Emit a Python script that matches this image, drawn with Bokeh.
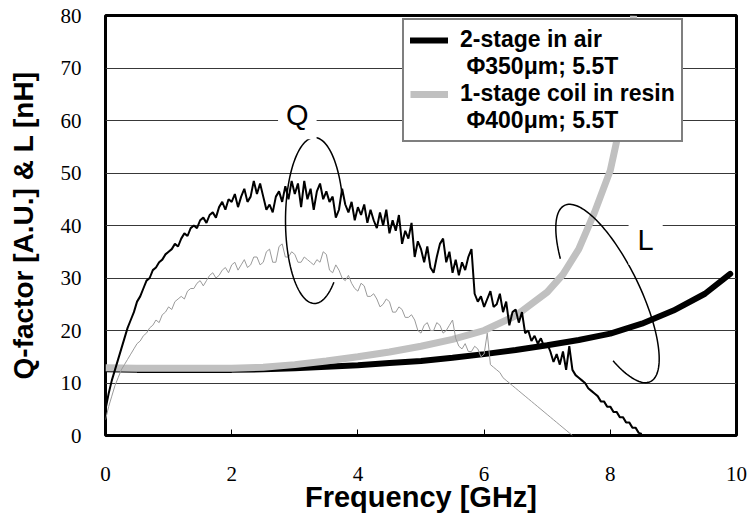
import numpy as np
from bokeh.plotting import figure
from bokeh.models import Range1d, Legend, LegendItem, Label, FixedTicker
from bokeh.core.properties import value
from bokeh.embed import file_html
from bokeh.resources import INLINE

# ---------------- data ----------------
# Q-factor curves (A.U.), sampled every 0.05 GHz
freq_q_air = np.round(np.arange(0, 8.501, 0.05), 2)
q_air = [5, 8, 10.5, 12.5, 14.5, 16.5, 18.5, 20.5, 22, 23.5,
         25.5, 26.5, 28, 29.5, 30, 31.5, 32, 33, 33.5, 34.5,
         35, 35.5, 36.5, 36, 37.5, 38.5, 38, 39.5, 40, 39.5,
         41, 41.5, 40.5, 42, 42.5, 41.5, 43.5, 44.5, 43, 45,
         44.5, 46, 43.5, 45.5, 47, 44.5, 45.5, 48.5, 46, 48,
         45.5, 43, 44, 42.5, 45.5, 46.5, 44.5, 47.5, 45, 48.5,
         46, 48, 43.5, 48.5, 45, 47, 43, 46.5, 48, 45,
         46.5, 44.5, 45.5, 41.5, 43, 47, 44, 42.5, 44.5, 41,
         43.5, 42, 44, 40.5, 43, 41, 39.5, 42.5, 40, 43,
         38.5, 41, 39, 42, 36.5, 39, 37.5, 40.5, 34, 37,
         35.5, 33, 36, 32, 31, 34, 36.5, 37.5, 33, 35,
         31, 33.5, 30.5, 33, 31.5, 34, 35.5, 27, 25.5, 26.5,
         24.5, 26, 27.5, 24.5, 25, 27, 23.5, 25.5, 21, 23.5,
         24, 21.5, 23.5, 19.5, 20, 18, 19, 17.5, 18.5, 17,
         17.5, 16, 14, 15.5, 13.5, 16, 12.5, 17, 12.5, 11.5,
         11, 10.5, 10, 9, 8.5, 8, 7.5, 6.5, 6.5, 5.5,
         5.5, 4.5, 4.5, 3.5, 3.5, 2.5, 2.5, 1.5, 1.5, 0.5,
         0.3]

freq_q_resin = np.round(np.arange(0, 7.401, 0.05), 2)
q_resin = [3, 5.5, 7.5, 9.5, 11, 12.5, 13.5, 14.5, 15.5, 16.5,
           17.5, 18, 19, 19.5, 20.5, 21, 22, 21.5, 23, 23.5,
           24.5, 24, 25.5, 26, 26.5, 26, 27.5, 28, 28, 29,
           29.5, 28.5, 29.5, 30.5, 31, 30, 30.5, 31.5, 32, 31,
           32.5, 33, 31.5, 32.5, 33.5, 32, 32.5, 34, 34, 32.5,
           33, 35, 35.5, 33, 33, 36, 36.5, 34, 34, 35,
           34.5, 33, 33, 34, 33.5, 33, 32.5, 33.5, 33, 35,
           34.5, 31.5, 31, 32.5, 31.5, 30, 29.5, 30.5, 29, 28,
           27.5, 29, 28.5, 26.5, 26.5, 27, 26, 24.5, 25, 26,
           25.5, 23.5, 23.5, 24.5, 24, 22.5, 22.5, 23, 22, 20,
           19.5, 21, 21.5, 20, 20, 21.5, 21, 19.5, 20, 21,
           22, 18.5, 17, 16.5, 17.5, 16, 16, 17, 16.5, 15,
           15.5, 19.5, 13.5, 13, 12.5, 12, 11, 10.5, 10, 9.5,
           9, 8.5, 8, 7.5, 7, 6.5, 6, 5.5, 5, 4.5,
           4, 3.5, 3, 2.5, 2, 1.5, 1, 0.5, 0]

# Inductance curves (nH)
freq_l_air = [0, 0.5, 1, 1.5, 2, 2.5, 3, 3.5, 4, 4.5, 5, 5.5, 6, 6.5,
              7, 7.5, 8, 8.5, 9, 9.5, 9.9]
l_air = [12.6, 12.5, 12.5, 12.5, 12.5, 12.6, 12.8, 13.1, 13.4, 13.8, 14.2,
         14.8, 15.5, 16.3, 17.2, 18.2, 19.4, 21.3, 23.8, 27.0, 30.8]

freq_l_resin = [0, 0.5, 1, 1.5, 2, 2.5, 3, 3.5, 4, 4.5, 5, 5.5, 6, 6.5,
                7, 7.25, 7.5, 7.75, 8, 8.1, 8.2, 8.3, 8.37]
l_resin = [12.9, 12.8, 12.8, 12.8, 12.8, 13.0, 13.5, 14.2, 15.0, 15.9, 17.0,
           18.3, 20.0, 22.8, 27.3, 30.7, 35.5, 42.5, 50.5, 56.0, 63.0, 71.0, 80.0]

x_ticks = [0, 2, 4, 6, 8, 10]
y_ticks = [0, 10, 20, 30, 40, 50, 60, 70, 80]

series_labels = ["2-stage in air", "\u00a0\u03a6350\u03bcm; 5.5T",
                 "1-stage coil in resin", "\u00a0\u03a6400\u03bcm; 5.5T"]

TICK_FONT = "'Liberation Serif', serif"
BOLD_FONT = "'Liberation Sans', Arial, sans-serif"

# ---------------- figure ----------------
W, H = 749, 524
BL, BR, BT, BB = 105, 13, 15, 89
p = figure(width=W, height=H, x_range=Range1d(0, 10), y_range=Range1d(0, 80),
           output_backend="svg", toolbar_location=None,
           min_border_left=BL, min_border_right=BR, min_border_top=BT,
           min_border_bottom=BB)
p.background_fill_color = "white"
p.border_fill_color = "white"
p.outline_line_color = "black"
p.outline_line_width = 3

# scale helpers (screen px -> data) for hand-drawn annotation loops
fw = (W - BL - BR) / 10.0
fh = (H - BT - BB) / 80.0
def to_data(px, py):
    return (np.asarray(px) - BL) / fw, (H - BB - np.asarray(py)) / fh

# axes
for ax in p.xaxis:
    ax.ticker = FixedTicker(ticks=x_ticks)
    ax.axis_line_color = None
    ax.major_tick_in = 6
    ax.major_tick_out = 0
    ax.major_tick_line_color = "black"
    ax.minor_tick_line_color = None
    ax.major_label_text_font = TICK_FONT
    ax.major_label_text_font_size = "21px"
    ax.major_label_text_color = "black"
    ax.major_label_standoff = 31
    ax.axis_label = "Frequency [GHz]"
    ax.axis_label_text_font = BOLD_FONT
    ax.axis_label_text_font_style = "bold"
    ax.axis_label_text_font_size = "29px"
    ax.axis_label_text_color = "black"
    ax.axis_label_standoff = -3

for ax in p.yaxis:
    ax.ticker = FixedTicker(ticks=y_ticks)
    ax.axis_line_color = None
    ax.major_tick_in = 0
    ax.major_tick_out = 0
    ax.minor_tick_line_color = None
    ax.major_label_text_font = TICK_FONT
    ax.major_label_text_font_size = "21px"
    ax.major_label_text_color = "black"
    ax.major_label_standoff = 24
    ax.axis_label = "Q-factor [A.U.] & L [nH]"
    ax.axis_label_text_font = BOLD_FONT
    ax.axis_label_text_font_style = "bold"
    ax.axis_label_text_font_size = "28px"
    ax.axis_label_text_color = "black"
    ax.axis_label_standoff = 19

p.xgrid.grid_line_color = None
p.ygrid.grid_line_color = "#383838"
p.ygrid.grid_line_width = 1
p.ygrid.ticker = FixedTicker(ticks=y_ticks)

# ---------------- series ----------------
r_l_air = p.line(freq_l_air, l_air, line_color="black", line_width=6, line_cap="round")
r_l_resin = p.line(freq_l_resin, l_resin, line_color="#c0c0c0", line_width=7)
p.line(freq_q_resin, q_resin, line_color="#9a9a9a", line_width=1)
p.line(freq_q_air, q_air, line_color="black", line_width=2)

# hand-drawn style loops marking Q and L groups
phi = np.radians(np.linspace(20, 312, 90))
qx, qy = to_data(314 + 29 * np.cos(phi), 220 - 83 * np.sin(phi))
p.line(qx, qy, line_color="black", line_width=1.5)

th = np.radians(64)
t = np.radians(np.linspace(122, 410, 120))
lpx = 607 + 98 * np.cos(t) * np.cos(th) - 32 * np.sin(t) * np.sin(th)
lpy = 293 + 98 * np.cos(t) * np.sin(th) + 32 * np.sin(t) * np.cos(th)
lx, ly = to_data(lpx, lpy)
p.line(lx, ly, line_color="black", line_width=1.5)

# group labels
p.add_layout(Label(x=3.04, y=61.0, text="Q", text_align="center", text_baseline="middle",
                   text_font=BOLD_FONT, text_font_size="29px", text_color="black",
                   background_fill_color="white", padding=8))
p.add_layout(Label(x=8.56, y=37.3, text="L", text_align="center", text_baseline="middle",
                   text_font=BOLD_FONT, text_font_size="29px", text_color="black",
                   background_fill_color="white", padding=9))

# ---------------- legend ----------------
d1 = p.line([], [], line_alpha=0)
d2 = p.line([], [], line_alpha=0)
legend = Legend(items=[
    LegendItem(label=value(series_labels[0]), renderers=[r_l_air]),
    LegendItem(label=value(series_labels[1]), renderers=[d1]),
    LegendItem(label=value(series_labels[2]), renderers=[r_l_resin]),
    LegendItem(label=value(series_labels[3]), renderers=[d2]),
], location=(297, 293))
legend.border_line_color = "black"
legend.border_line_width = 2
legend.background_fill_color = "white"
legend.background_fill_alpha = 1
legend.label_text_font = BOLD_FONT
legend.label_text_font_style = "bold"
legend.label_text_font_size = "23px"
legend.label_text_color = "black"
legend.label_height = 22
legend.glyph_height = 22
legend.glyph_width = 38
legend.label_standoff = 12
legend.spacing = 0
legend.padding = 6
legend.margin = 0
p.add_layout(legend, "center")

open("out.html", "w").write(file_html(p, INLINE))
